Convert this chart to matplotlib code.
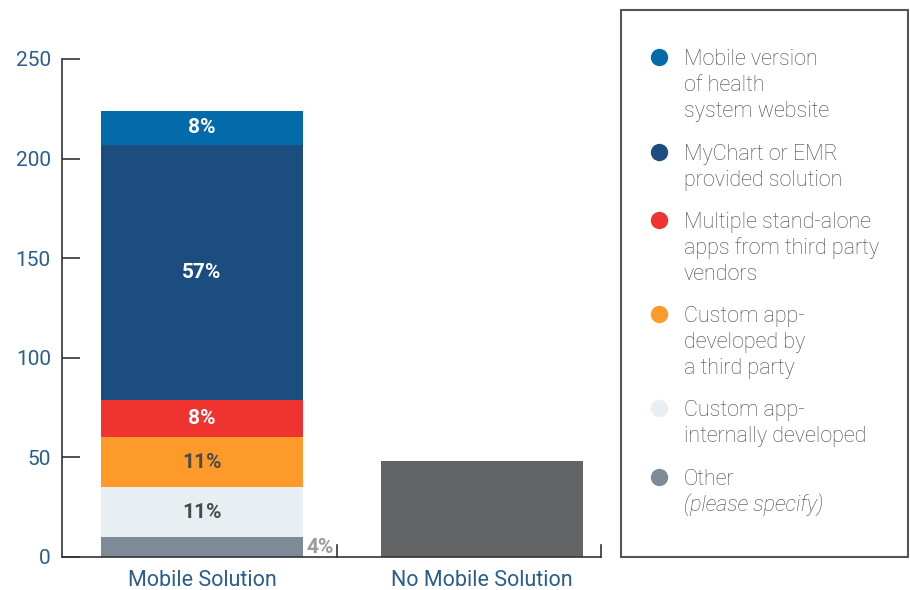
import matplotlib.pyplot as plt
from matplotlib.patches import Rectangle

plt.rcParams['font.family'] = ['Roboto', 'DejaVu Sans']

# survey counts
categories = ['Mobile Solution', 'No Mobile Solution']
segment_names = ['Other\n(please specify)',
                 'Custom app-\ninternally developed',
                 'Custom app-\ndeveloped by\na third party',
                 'Multiple stand-alone\napps from third party\nvendors',
                 'MyChart or EMR\nprovided solution',
                 'Mobile version\nof health\nsystem website']
segment_values = [10, 25, 25, 19, 128, 17]
segment_colors = ['#7f8a99', '#e8eff2', '#fd9a2a', '#ef3330', '#1b4d7e', '#046bab']
label_colors = ['#9a9a9a', '#4a4a4a', '#4a4a4a', 'white', 'white', 'white']
no_mobile = [48]
yticks = [0, 50, 100, 150, 200, 250]

blue_txt = '#2a5d8f'
legend_txt = '#454545'
W, H = 910, 590

fig = plt.figure(figsize=(W / 100, H / 100), dpi=100)
ax = fig.add_axes([62 / W, (H - 557) / H, (601 - 62) / W, (557 - 59) / H])

total = sum(segment_values)
bottom = 0
for v, c, lc in zip(segment_values, segment_colors, label_colors):
    ax.bar(0, v, bottom=bottom, width=0.72, color=c, linewidth=0)
    pct = '%d%%' % round(100 * v / total)
    if v < 15:
        # too thin to hold its label, put it beside the bar
        ax.text(0.372, bottom + v / 2, pct, color=lc, fontsize=15,
                fontweight='bold', ha='left', va='center')
    else:
        ax.text(0, bottom + v / 2, pct, color=lc, fontsize=15,
                fontweight='bold', ha='center', va='center')
    bottom += v
ax.bar(1, no_mobile[0], width=0.72, color='#636466', linewidth=0)

ax.set_xlim(-0.5, 1.425)
ax.set_ylim(0, 250)
for s in ['top', 'right']:
    ax.spines[s].set_visible(False)
for s in ['left', 'bottom']:
    ax.spines[s].set_color('#333333')
    ax.spines[s].set_linewidth(1.2)
ax.set_yticks(yticks)
ax.tick_params(axis='y', direction='in', length=13, width=1.2, color='#333333',
               labelcolor=blue_txt, labelsize=15, pad=8)
ax.set_xticks([0, 1])
ax.set_xticklabels(categories)
ax.tick_params(axis='x', length=0, labelcolor=blue_txt, labelsize=15.5, pad=9)
# category separators on the baseline
for xb in [0.482, 1.425]:
    ax.plot([xb, xb], [0, 6], color='#333333', lw=1.2, clip_on=False)

# legend panel
lax = fig.add_axes([0, 0, 1, 1])
lax.set_xlim(0, W)
lax.set_ylim(H, 0)
lax.axis('off')
lax.add_patch(Rectangle((621, 10), 287, 547, fill=False, edgecolor='#555555', lw=1.5))
entry_y = [57, 152, 220, 314, 408, 477]
for i, yy in enumerate(entry_y):
    k = len(segment_names) - 1 - i
    lax.plot(659, yy, 'o', ms=12.5, color=segment_colors[k], mec='none')
    for j, line in enumerate(segment_names[k].split('\n')):
        italic = line.startswith('(')
        lax.text(684, yy + 8 + 26 * j, line, fontsize=15.5, fontweight='light',
                 style='italic' if italic else 'normal', color=legend_txt,
                 va='baseline', ha='left')

fig.savefig('out.png', dpi=100)
